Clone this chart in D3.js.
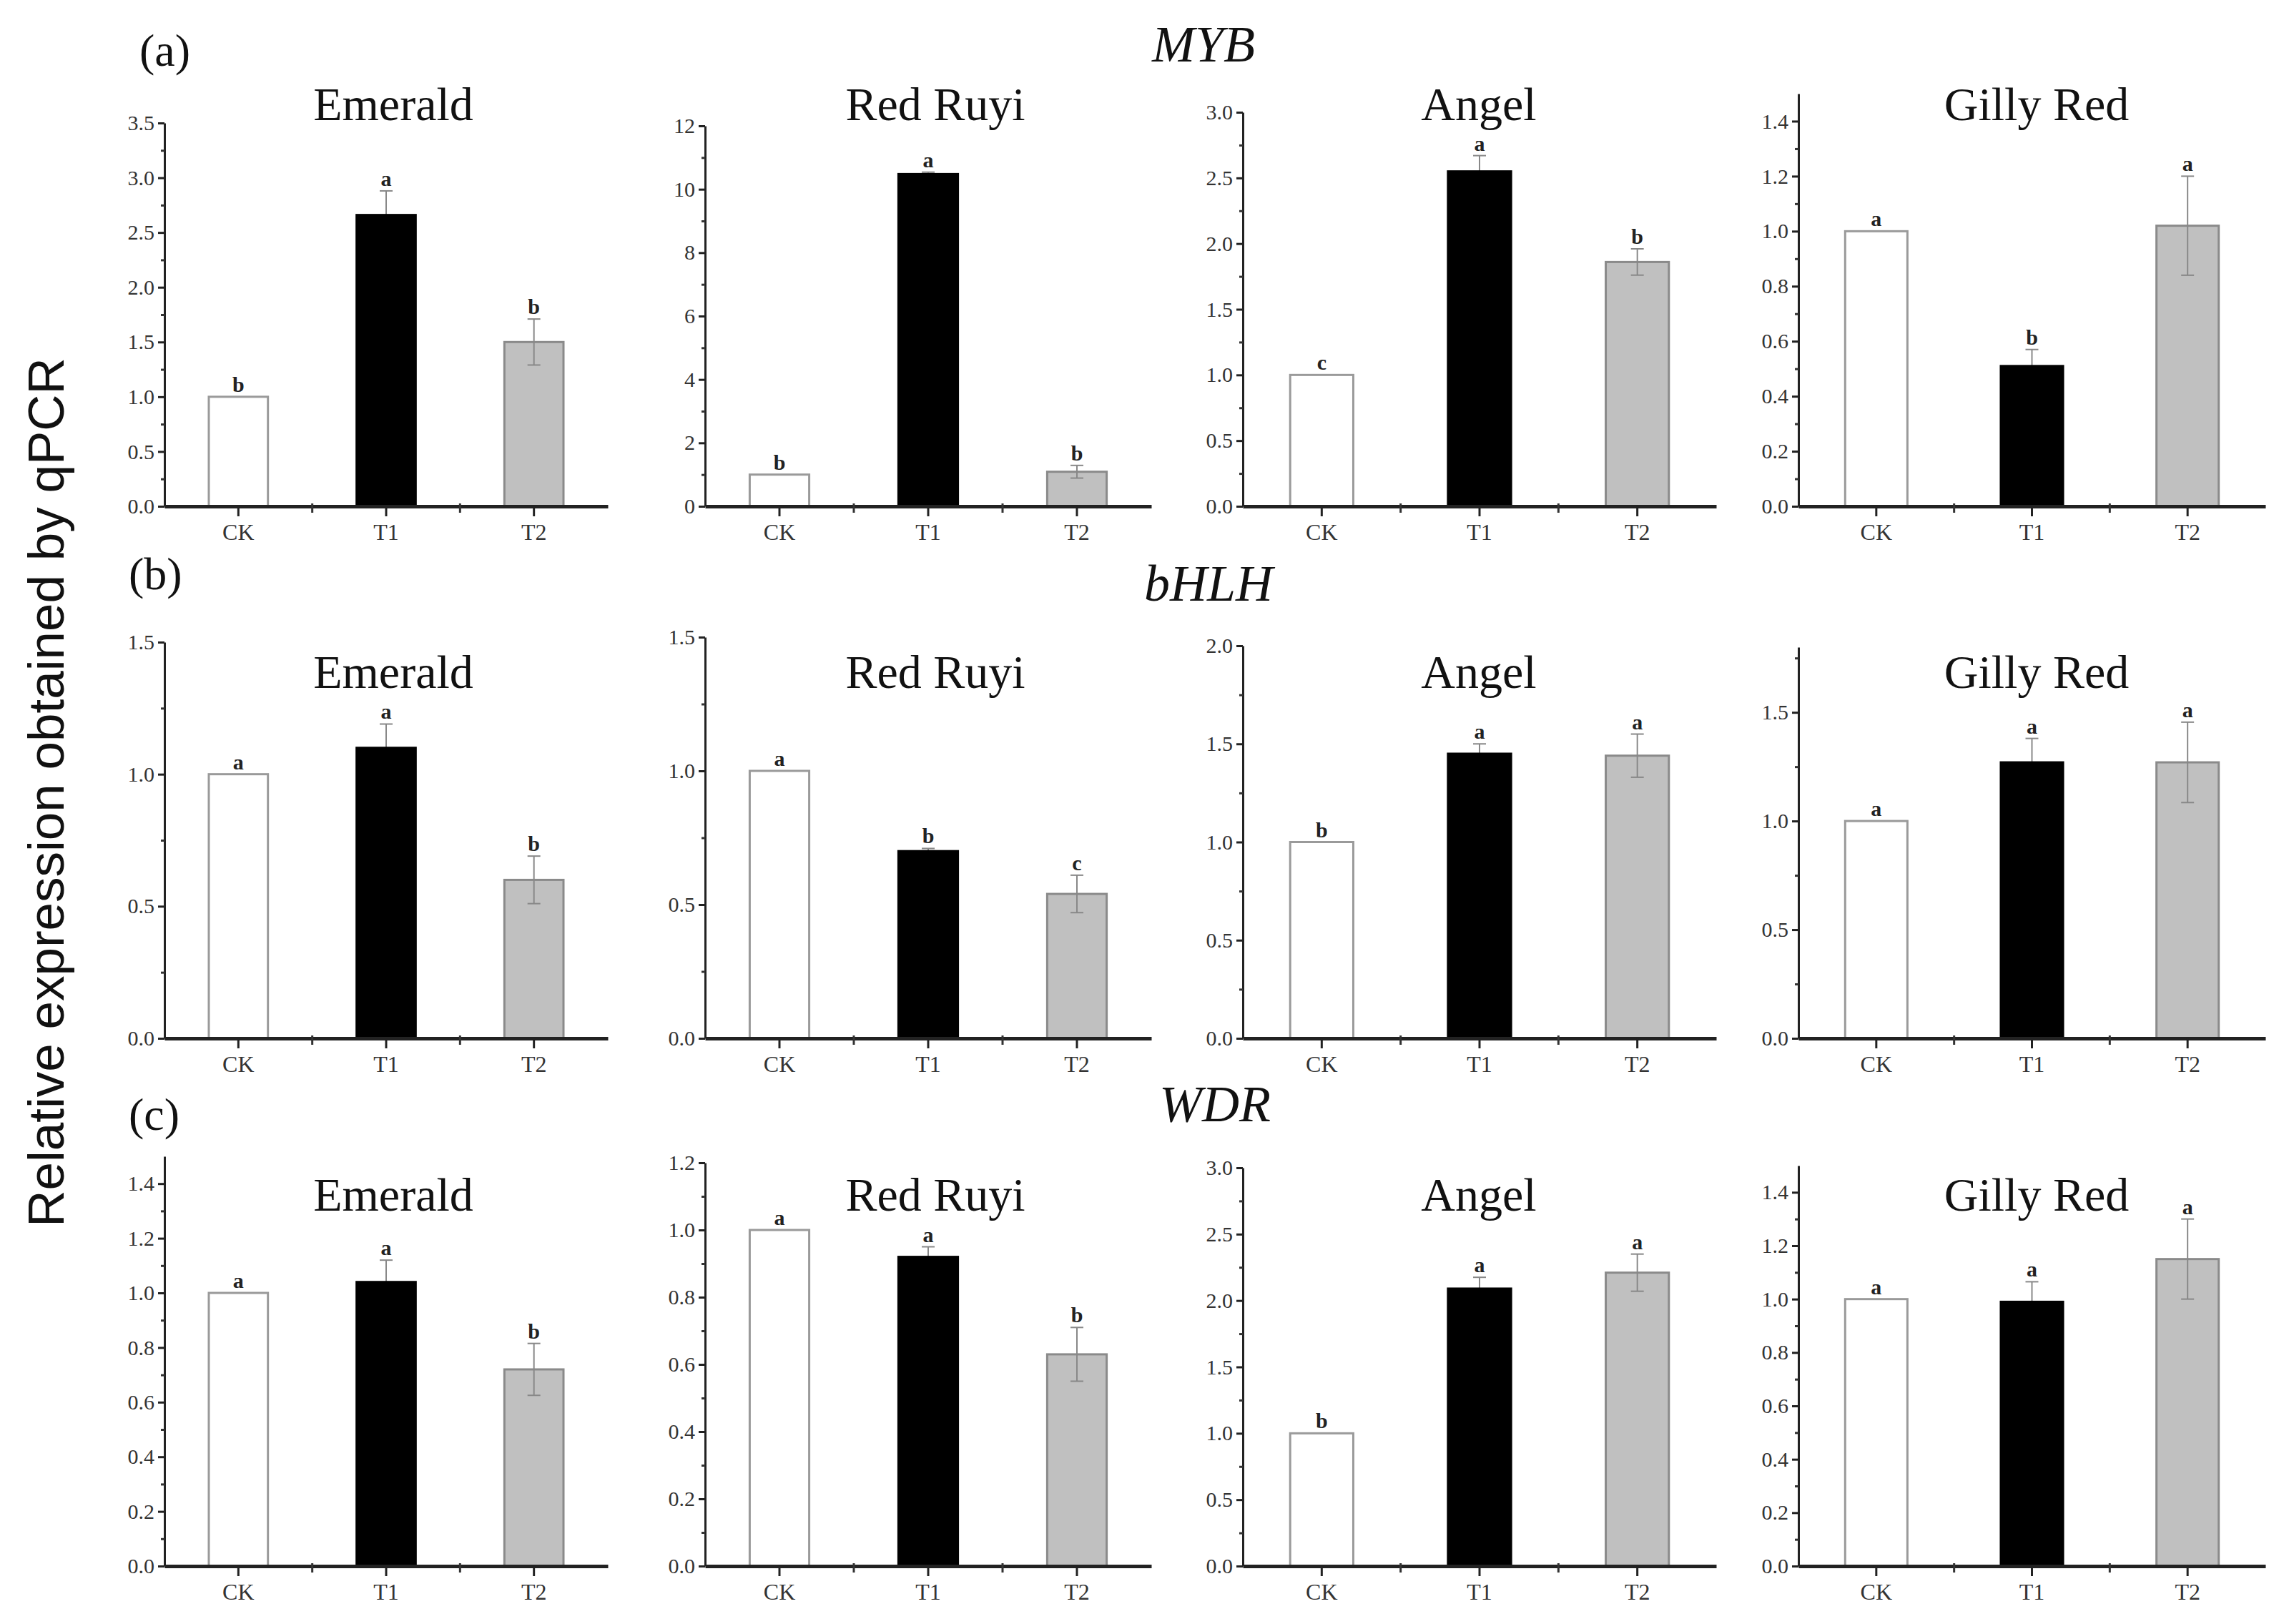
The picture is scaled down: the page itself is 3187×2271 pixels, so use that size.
<!DOCTYPE html>
<html>
<head>
<meta charset="utf-8">
<title>Relative expression obtained by qPCR</title>
<script src="https://cdn.jsdelivr.net/npm/d3@7"></script>
<style>
  body { margin: 0; background: #fff; }
  svg { display: block; font-family: 'Liberation Serif', 'Times New Roman', serif; }
</style>
</head>
<body>
<svg id="chart" width="3187" height="2271"></svg>
<script>
const genes = ['MYB', 'bHLH', 'WDR'];
const panelTags = ['(a)', '(b)', '(c)'];
const cultivars = ['Emerald', 'Red Ruyi', 'Angel', 'Gilly Red'];
const treatments = ['CK', 'T1', 'T2'];

// MYB, one row per cultivar: CK, T1, T2
const mybMeans   = [[1.00, 2.66, 1.50], [1.00, 10.48, 1.09], [1.00, 2.55, 1.86], [1.00, 0.51, 1.02]];
const mybErrors  = [[0, 0.22, 0.21], [0, 0.06, 0.20], [0, 0.12, 0.10], [0, 0.06, 0.18]];
const mybLetters = [['b', 'a', 'b'], ['b', 'a', 'b'], ['c', 'a', 'b'], ['a', 'b', 'a']];
const mybYMax    = [3.5, 12, 3.0, 1.5];
const mybYStep   = [0.5, 2, 0.5, 0.2];

// bHLH
const bhlhMeans   = [[1.00, 1.10, 0.60], [1.00, 0.70, 0.54], [1.00, 1.45, 1.44], [1.00, 1.27, 1.27]];
const bhlhErrors  = [[0, 0.09, 0.09], [0, 0.01, 0.07], [0, 0.05, 0.11], [0, 0.11, 0.185]];
const bhlhLetters = [['a', 'a', 'b'], ['a', 'b', 'c'], ['b', 'a', 'a'], ['a', 'a', 'a']];
const bhlhYMax    = [1.5, 1.5, 2.0, 1.8];
const bhlhYStep   = [0.5, 0.5, 0.5, 0.5];

// WDR
const wdrMeans   = [[1.00, 1.04, 0.72], [1.00, 0.92, 0.63], [1.00, 2.09, 2.21], [1.00, 0.99, 1.15]];
const wdrErrors  = [[0, 0.08, 0.095], [0, 0.03, 0.08], [0, 0.085, 0.14], [0, 0.075, 0.15]];
const wdrLetters = [['a', 'a', 'b'], ['a', 'a', 'b'], ['b', 'a', 'a'], ['a', 'a', 'a']];
const wdrYMax    = [1.5, 1.2, 3.0, 1.5];
const wdrYStep   = [0.2, 0.2, 0.5, 0.2];

const rows = [
  { means: mybMeans,  errors: mybErrors,  letters: mybLetters,  yMax: mybYMax,  yStep: mybYStep },
  { means: bhlhMeans, errors: bhlhErrors, letters: bhlhLetters, yMax: bhlhYMax, yStep: bhlhYStep },
  { means: wdrMeans,  errors: wdrErrors,  letters: wdrLetters,  yMax: wdrYMax,  yStep: wdrYStep }
];

// layout
const colX = [[230, 850], [986, 1610], [1738, 2400], [2515, 3168]];
const rowBase = [708, 1452, 2190];
const plotH = [[536, 532, 551, 577], [554, 561, 549, 547], [573, 564, 557, 560]];
const titleY = [168, 962, 1693];
const titleX = [550, 1308, 2068, 2848];
const geneX = [1683, 1690, 1699];
const geneY = [86, 840, 1568];
const tagPos = [[195, 92], [180, 824], [180, 1580]];

const barFill   = ['#ffffff', '#000000', '#c0c0c0'];
const barStroke = ['#9a9a9a', '#000000', '#8a8a8a'];

const svg = d3.select('#chart');
svg.append('rect').attr('width', 3187).attr('height', 2271).attr('fill', '#fff');

// y label
svg.append('text')
   .attr('transform', 'translate(89, 1108) rotate(-90)')
   .attr('text-anchor', 'middle')
   .style('font-family', "'Liberation Sans', Arial, sans-serif")
   .style('font-size', '71px')
   .attr('fill', '#111')
   .text('Relative expression obtained by qPCR');

rows.forEach((row, r) => {
  svg.append('text')
     .attr('x', tagPos[r][0]).attr('y', tagPos[r][1])
     .style('font-size', '64px')
     .attr('fill', '#111')
     .text(panelTags[r]);

  svg.append('text')
     .attr('x', geneX[r]).attr('y', geneY[r])
     .attr('text-anchor', 'middle')
     .style('font-size', '72px')
     .style('font-style', 'italic')
     .attr('fill', '#111')
     .text(genes[r]);

  cultivars.forEach((name, c) => {
    drawPanel(row, r, c, name);
  });
});

function drawErrors(g, data, x, y) {
  const cx = d => x(d.t) + x.bandwidth() / 2;
  const eb = g.append('g')
              .selectAll('g')
              .data(data)
              .enter()
              .append('g')
              .attr('stroke', '#888')
              .attr('stroke-width', 2);
  eb.append('line')
    .attr('x1', cx).attr('x2', cx)
    .attr('y1', d => y(d.v - d.e))
    .attr('y2', d => y(d.v + d.e));
  eb.append('line')
    .attr('x1', d => cx(d) - 9).attr('x2', d => cx(d) + 9)
    .attr('y1', d => y(d.v + d.e)).attr('y2', d => y(d.v + d.e));
  eb.append('line')
    .attr('x1', d => cx(d) - 9).attr('x2', d => cx(d) + 9)
    .attr('y1', d => y(d.v - d.e)).attr('y2', d => y(d.v - d.e));
}

function drawPanel(row, r, c, name) {
  const base = rowBase[r];
  const h = plotH[r][c];
  const yMax = row.yMax[c];
  const step = row.yStep[c];

  const x = d3.scaleBand()
              .domain(treatments)
              .range(colX[c])
              .paddingInner(0.6)
              .paddingOuter(0.3);
  const y = d3.scaleLinear()
              .domain([0, yMax])
              .range([base, base - h]);

  const g = svg.append('g');

  const bars = treatments.map((t, i) => ({
    t: t, i: i, v: row.means[c][i], e: row.errors[c][i], l: row.letters[c][i]
  }));
  const withErr = bars.filter(d => d.e > 0);

  // the black bar hides the lower half of its error bar
  drawErrors(g, withErr.filter(d => d.i === 1), x, y);

  g.selectAll('rect.bar')
   .data(bars)
   .enter()
   .append('rect')
   .attr('class', 'bar')
   .attr('x', d => x(d.t))
   .attr('y', d => y(d.v))
   .attr('width', x.bandwidth())
   .attr('height', d => y(0) - y(d.v))
   .attr('fill', d => barFill[d.i])
   .attr('stroke', d => barStroke[d.i])
   .attr('stroke-width', 3);

  drawErrors(g, withErr.filter(d => d.i !== 1), x, y);

  // significance letters
  g.selectAll('text.sig')
   .data(bars)
   .enter()
   .append('text')
   .attr('x', d => x(d.t) + x.bandwidth() / 2)
   .attr('y', d => y(d.v + d.e) - 7)
   .attr('text-anchor', 'middle')
   .style('font-size', '30px')
   .style('font-weight', 'bold')
   .attr('fill', '#222')
   .text(d => d.l);

  // y axis
  const major = d3.range(0, yMax + step / 2, step)
                  .map(v => Math.round(v * 1000) / 1000)
                  .filter(v => v <= yMax + 1e-9);
  const minor = d3.range(step / 2, yMax, step)
                  .map(v => Math.round(v * 1000) / 1000);
  const fmt = step >= 1 ? d3.format('d') : d3.format('.1f');

  const yAxis = g.append('g')
                 .attr('transform', `translate(${colX[c][0]}, 0)`)
                 .call(d3.axisLeft(y).tickValues(major).tickFormat(fmt)
                         .tickSize(9).tickSizeOuter(0).tickPadding(5));
  yAxis.select('.domain').attr('stroke', '#222').attr('stroke-width', 3);
  yAxis.selectAll('.tick line').attr('stroke', '#222').attr('stroke-width', 3);
  yAxis.selectAll('.tick text')
       .style('font-family', "'Liberation Serif', 'Times New Roman', serif")
       .style('font-size', '30px')
       .attr('fill', '#333');

  g.append('g')
   .attr('transform', `translate(${colX[c][0]}, 0)`)
   .call(d3.axisLeft(y).tickValues(minor).tickFormat('').tickSize(5).tickSizeOuter(0))
   .call(a => a.select('.domain').remove())
   .selectAll('.tick line').attr('stroke', '#333').attr('stroke-width', 3);

  // x axis
  const xAxis = g.append('g')
                 .attr('transform', `translate(0, ${base})`)
                 .call(d3.axisBottom(x).tickSize(14).tickSizeOuter(0).tickPadding(10));
  xAxis.select('.domain').attr('stroke', '#222').attr('stroke-width', 5);
  xAxis.selectAll('.tick line').attr('stroke', '#222').attr('stroke-width', 3);
  xAxis.selectAll('.tick text')
       .style('font-family', "'Liberation Serif', 'Times New Roman', serif")
       .style('font-size', '32px')
       .attr('fill', '#333');

  const mids = d3.pairs(treatments).map(p => (x(p[0]) + x(p[1])) / 2 + x.bandwidth() / 2);
  g.selectAll('line.xminor')
   .data(mids)
   .enter()
   .append('line')
   .attr('x1', d => d).attr('x2', d => d)
   .attr('y1', base - 4).attr('y2', base + 9)
   .attr('stroke', '#333')
   .attr('stroke-width', 3);

  // cultivar title
  svg.append('text')
     .attr('x', titleX[c]).attr('y', titleY[r])
     .attr('text-anchor', 'middle')
     .style('font-size', '66px')
     .attr('fill', '#111')
     .text(name);
}
</script>
</body>
</html>
